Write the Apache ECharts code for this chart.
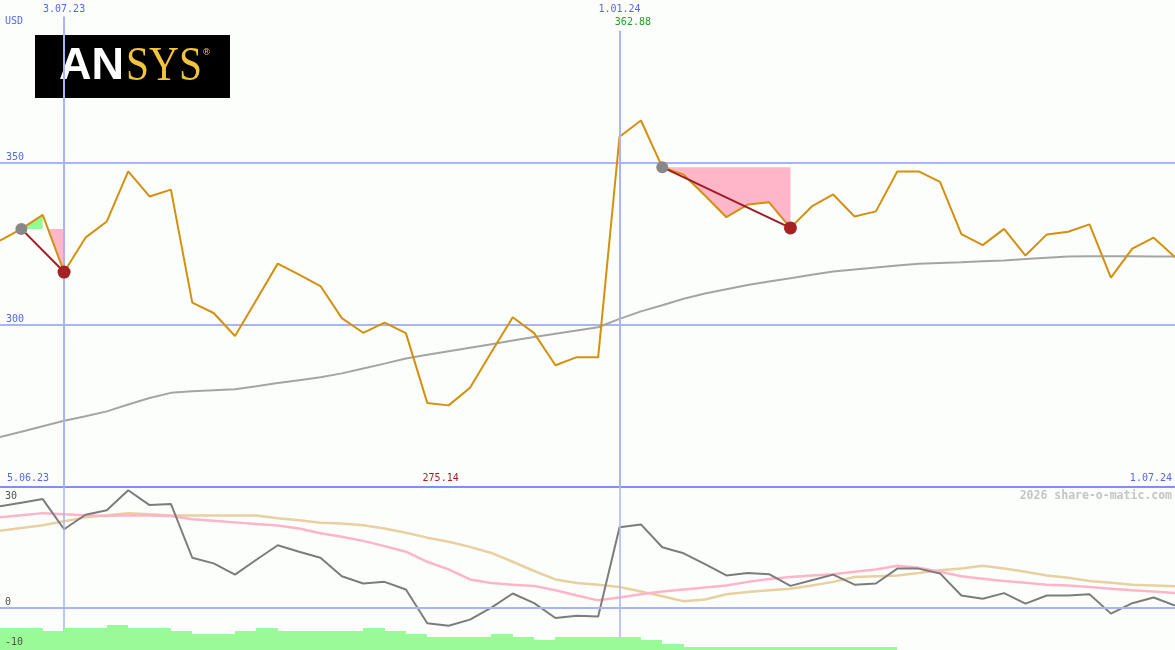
<!DOCTYPE html>
<html><head><meta charset="utf-8">
<script src="https://cdn.jsdelivr.net/npm/echarts@6/dist/echarts.min.js"></script>
<style>html,body{margin:0;padding:0;background:#fcfefc;}#c{width:1175px;height:650px;}</style>
</head><body><div id="c"></div>
<script>
// weekly closes, index 0 = 12.06.23 ... index 55 = 1.07.24
const price = [325.9, 329.5, 333.8, 316.2, 326.8, 331.8, 347.2, 339.5, 341.6, 306.8,
  303.6, 296.5, 307.6, 318.8, 315.4, 311.9, 302.0, 297.5, 300.6, 297.4,
  275.9, 275.14, 280.6, 291.5, 302.3, 297.4, 287.5, 290.0, 290.0, 357.9,
  362.88, 348.5, 346.2, 339.8, 333.1, 337.0, 337.7, 329.8, 336.4, 340.1,
  333.3, 334.9, 347.2, 347.2, 344.0, 327.9, 324.5, 329.5, 321.3, 327.8,
  328.6, 330.9, 314.5, 323.4, 326.8, 320.8];
const movingAvg = [265.4, 267.0, 268.7, 270.4, 271.8, 273.3, 275.4, 277.4, 279.0, 279.5,
  279.8, 280.1, 281.0, 282.0, 282.9, 283.8, 285.0, 286.5, 288.0, 289.6,
  290.7, 291.8, 292.9, 294.0, 295.1, 296.2, 297.2, 298.2, 299.2, 301.8,
  304.1, 306.0, 308.0, 309.6, 310.9, 312.2, 313.3, 314.3, 315.4, 316.4,
  317.0, 317.6, 318.2, 318.8, 319.0, 319.2, 319.5, 319.8, 320.2, 320.6,
  321.0, 321.1, 321.1, 321.1, 321.0, 321.0];
const oscillator = [25.2, 26.1, 27.0, 19.5, 23.1, 24.2, 29.2, 25.5, 25.8, 12.4,
  11.0, 8.2, 11.9, 15.5, 13.9, 12.4, 7.8, 6.0, 6.4, 4.5,
  -3.9, -4.5, -3.0, 0.0, 3.5, 1.1, -2.6, -2.0, -2.2, 20.0,
  20.7, 15.0, 13.5, 10.8, 8.0, 8.6, 8.3, 5.4, 6.8, 8.2,
  5.7, 6.0, 9.7, 9.7, 8.5, 3.0, 2.2, 3.6, 1.0, 3.0,
  3.0, 3.3, -1.5, 1.1, 2.5, 0.5];
const oscFast = [22.5, 23.0, 23.5, 23.2, 23.0, 22.8, 23.0, 22.9, 22.8, 22.0,
  21.6, 21.2, 20.8, 20.4, 19.7, 18.5, 17.6, 16.6, 15.3, 13.9,
  11.4, 9.5, 7.0, 6.1, 5.7, 5.4, 4.3, 3.0, 1.8, 2.5,
  3.3, 4.0, 4.5, 5.0, 5.5, 6.4, 7.1, 7.6, 8.0, 8.3,
  8.9, 9.5, 10.4, 9.9, 8.9, 7.8, 7.2, 6.6, 6.2, 5.7,
  5.5, 5.1, 4.7, 4.3, 4.0, 3.6];
const oscSlow = [19.1, 19.8, 20.5, 21.5, 22.5, 23.0, 23.5, 23.2, 22.9, 22.9,
  22.9, 22.9, 22.9, 22.2, 21.7, 21.1, 20.9, 20.5, 19.7, 18.6,
  17.4, 16.4, 15.1, 13.6, 11.4, 9.1, 7.0, 6.1, 5.7, 5.1,
  4.0, 2.8, 1.6, 2.0, 3.3, 3.9, 4.3, 4.7, 5.5, 6.4,
  7.6, 7.8, 8.0, 8.6, 9.3, 9.7, 10.4, 9.7, 8.9, 8.0,
  7.4, 6.6, 6.2, 5.7, 5.5, 5.3];
const volume = [7, 7, 6, 7, 7, 8, 7, 7, 6, 5,
  5, 6, 7, 6, 6, 6, 6, 7, 6, 5,
  4, 4, 4, 5, 4, 3, 4, 4, 4, 4,
  3, 2, 1, 1, 1, 1, 1, 1, 1, 1, 1, 1];
const markIdx = [3, 29];
const markLabels = ['3.07.23', '1.01.24'];
const rangeLabels = ['5.06.23', '1.07.24'];
const annStart = [1, 31];
const annEnd = [3, 37];
const topTicks = [300, 350];
const lowTicks = [-10, 0];
const currency = 'USD';
const watermark = '2026 share-o-matic.com';

const F = 'DejaVu Sans Mono';
const blue = '#5566ee';
const gridCol = '#a8b4f4';
const sepCol = '#7f8ff5';
const T = 'rgba(0,0,0,0)';

function polys(s, e) {
  const L = price[s];
  let peak = s;
  for (let i = s; i <= e; i++) if (price[i] > price[peak]) peak = i;
  const green = [];
  if (peak > s) {
    green.push([s, L]);
    for (let i = s + 1; i <= peak; i++) green.push([i, price[i]]);
    green.push([peak, L]);
  }
  const pink = [];
  if (price[peak] > L) {
    let j = peak + 1;
    while (j <= e && price[j] > L) j++;
    const a = price[j - 1], b = price[j];
    const x0 = j - 1 + (a - L) / (a - b);
    pink.push([x0, L], [e, L]);
    for (let i = e; i >= j; i--) pink.push([i, price[i]]);
  } else {
    pink.push([peak, L], [e, L]);
    for (let i = e; i >= peak; i--) pink.push([i, price[i]]);
  }
  return { green, pink };
}

const fillSeries = [];
annStart.forEach((s, k) => {
  const p = polys(s, annEnd[k]);
  [[p.pink, '#ffb6c9'], [p.green, '#98f898']].forEach(([pts, col]) => {
    if (!pts.length) return;
    fillSeries.push({
      type: 'custom', xAxisIndex: 0, yAxisIndex: 0, silent: true, z: 2,
      data: [[pts[0][0], pts[0][1]]],
      renderItem: (params, api) => ({
        type: 'polygon',
        shape: { points: pts.map(q => api.coord(q)) },
        style: { fill: col }
      })
    });
  });
});

const trendSeries = annStart.map((s, k) => ({
  type: 'line', xAxisIndex: 0, yAxisIndex: 0, z: 4, symbol: 'none', silent: true,
  data: [[s, price[s]], [annEnd[k], price[annEnd[k]]]],
  lineStyle: { color: '#a01c24', width: 2 }
}));

let maxI = 0, minI = 0;
price.forEach((v, i) => { if (v > price[maxI]) maxI = i; if (v < price[minI]) minI = i; });

const chart = echarts.init(document.getElementById('c'));
chart.setOption({
  backgroundColor: '#fcfefc',
  animation: false,
  title: [
    { text: currency, left: 5, top: 16, padding: 0, textStyle: { color: blue, fontFamily: F, fontSize: 10, fontWeight: 'normal' } },
    { text: rangeLabels[0], left: 7, top: 473, padding: 0, textStyle: { color: blue, fontFamily: F, fontSize: 10, fontWeight: 'normal' } },
    { text: rangeLabels[1], right: 3, top: 473, padding: 0, textStyle: { color: blue, fontFamily: F, fontSize: 10, fontWeight: 'normal' } },
    { text: watermark, right: 3, top: 490, padding: 0, textStyle: { color: '#c4c4c4', fontFamily: F, fontSize: 11.5, fontWeight: 'bold' } }
  ],
  grid: [
    { left: 0, right: 0, top: -1, height: 488 },
    { left: 0, right: 0, top: 487, height: 160.8 },
    { left: 0, right: 0, top: 618.2, height: 32.3 }
  ],
  xAxis: [0, 1, 2].map(g => ({ gridIndex: g, type: 'value', min: 0, max: 55, show: false })),
  yAxis: [
    { gridIndex: 0, type: 'value', min: 250, max: 400, interval: 50,
      axisLine: { show: false }, axisTick: { show: false },
      splitLine: { show: true, lineStyle: { color: [sepCol, gridCol, gridCol, T], width: 2 } },
      axisLabel: { inside: true, margin: 6, verticalAlign: 'bottom', color: blue, fontFamily: F, fontSize: 10,
        formatter: v => topTicks.includes(v) ? String(v) : '' } },
    { gridIndex: 1, type: 'value', min: -10, max: 30, interval: 10, z: 20,
      axisLine: { show: false }, axisTick: { show: false },
      splitLine: { show: true, lineStyle: { color: [T, gridCol, T, T, T], width: 2 } },
      axisLabel: { inside: true, margin: 5, verticalAlign: 'bottom', color: '#505050', fontFamily: F, fontSize: 10,
        formatter: v => lowTicks.includes(v) ? String(v) : '' } },
    { gridIndex: 1, type: 'value', min: -10, max: 30, interval: 10, position: 'left', z: 20,
      axisLine: { show: false }, axisTick: { show: false }, splitLine: { show: false },
      axisLabel: { inside: true, margin: 5, verticalAlign: 'top', padding: [4, 0, 0, 0], color: '#505050', fontFamily: F, fontSize: 10,
        formatter: v => v === 30 ? '30' : '' } },
    { gridIndex: 2, type: 'value', min: 0, max: 10, show: false }
  ],
  graphic: [{
    type: 'group', left: 35, top: 35, z: 100,
    children: [
      { type: 'rect', shape: { x: 0, y: 0, width: 195, height: 63 }, style: { fill: '#000' } },
      { type: 'text', x: 24, y: 32, style: { text: 'AN', fill: '#ffffff', font: 'bold 45px "Liberation Sans"', verticalAlign: 'middle' } },
      { type: 'text', x: 91, y: 32, scaleX: 0.845, style: { text: 'SYS', fill: '#f2c43a', font: '49px "Liberation Serif"', verticalAlign: 'middle' } },
      { type: 'text', x: 167, y: 18, style: { text: '®', fill: '#f2c43a', font: '9px "DejaVu Sans"', verticalAlign: 'middle' } }
    ]
  }],
  series: [
    { type: 'line', xAxisIndex: 0, yAxisIndex: 0, z: 2, symbol: 'none', silent: true,
      data: movingAvg.map((v, i) => [i, v]), lineStyle: { color: '#a4a4a4', width: 2 },
      markLine: { silent: true, symbol: 'none', animation: false,
        lineStyle: { color: gridCol, width: 2, type: 'solid' },
        label: { show: true, position: 'end', formatter: '{b}', color: blue, fontFamily: F, fontSize: 10 },
        data: markIdx.map((ix, k) => [
          { name: markLabels[k], coord: [ix, 250] },
          { name: markLabels[k], coord: [ix, [394.9, 390.5][k]], label: { distance: [2, 16][k] } }
        ]) } },
    ...fillSeries,
    { type: 'line', xAxisIndex: 0, yAxisIndex: 0, z: 3, symbol: 'none', silent: true,
      data: price.map((v, i) => [i, v]), lineStyle: { color: '#d4900c', width: 2 },
      markPoint: { silent: true, symbol: 'rect', symbolSize: 1, itemStyle: { color: T }, animation: false,
        label: { show: true, position: 'inside', offset: [-8, 0], fontFamily: F, fontSize: 10,
          formatter: p => p.value.toFixed(2) },
        data: [
          { coord: [maxI, 393.2], value: price[maxI], label: { color: '#22a022' } },
          { coord: [minI, 252.7], value: price[minI], label: { color: '#aa2020' } }
        ] } },
    ...trendSeries,
    { type: 'scatter', xAxisIndex: 0, yAxisIndex: 0, z: 5, silent: true, symbolSize: 12,
      data: annStart.map(i => [i, price[i]]), itemStyle: { color: '#888888', opacity: 1 } },
    { type: 'scatter', xAxisIndex: 0, yAxisIndex: 0, z: 5, silent: true, symbolSize: 13,
      data: annEnd.map(i => [i, price[i]]), itemStyle: { color: '#a52222', opacity: 1 } },
    { type: 'line', xAxisIndex: 1, yAxisIndex: 1, z: 2, symbol: 'none', silent: true,
      data: oscSlow.map((v, i) => [i, v]), lineStyle: { color: '#e8d0a0', width: 2.5 },
      markLine: { silent: true, symbol: 'none', animation: false, label: { show: false },
        lineStyle: { color: gridCol, width: 1.5, type: 'solid' },
        data: markIdx.map(ix => ({ xAxis: ix })) } },
    { type: 'line', xAxisIndex: 1, yAxisIndex: 1, z: 3, symbol: 'none', silent: true,
      data: oscFast.map((v, i) => [i, v]), lineStyle: { color: '#ffb4c8', width: 2.5 } },
    { type: 'line', xAxisIndex: 1, yAxisIndex: 1, z: 4, symbol: 'none', silent: true,
      data: oscillator.map((v, i) => [i, v]), lineStyle: { color: '#7c7c7c', width: 2 } },
    { type: 'custom', xAxisIndex: 2, yAxisIndex: 3, z: 6, silent: true,
      data: volume.map((v, i) => [i, v]), encode: { x: 0, y: 1 },
      renderItem: (params, api) => {
        const p0 = api.coord([api.value(0), api.value(1)]);
        const p1 = api.coord([api.value(0) + 1, 0]);
        const x0 = Math.round(p0[0]), x1 = Math.round(p1[0]);
        return { type: 'rect', shape: { x: x0, y: Math.round(p0[1]), width: x1 - x0, height: Math.round(p1[1]) - Math.round(p0[1]) + 1 }, style: { fill: '#98fb98' } };
      } }
  ]
});
</script>
</body></html>
